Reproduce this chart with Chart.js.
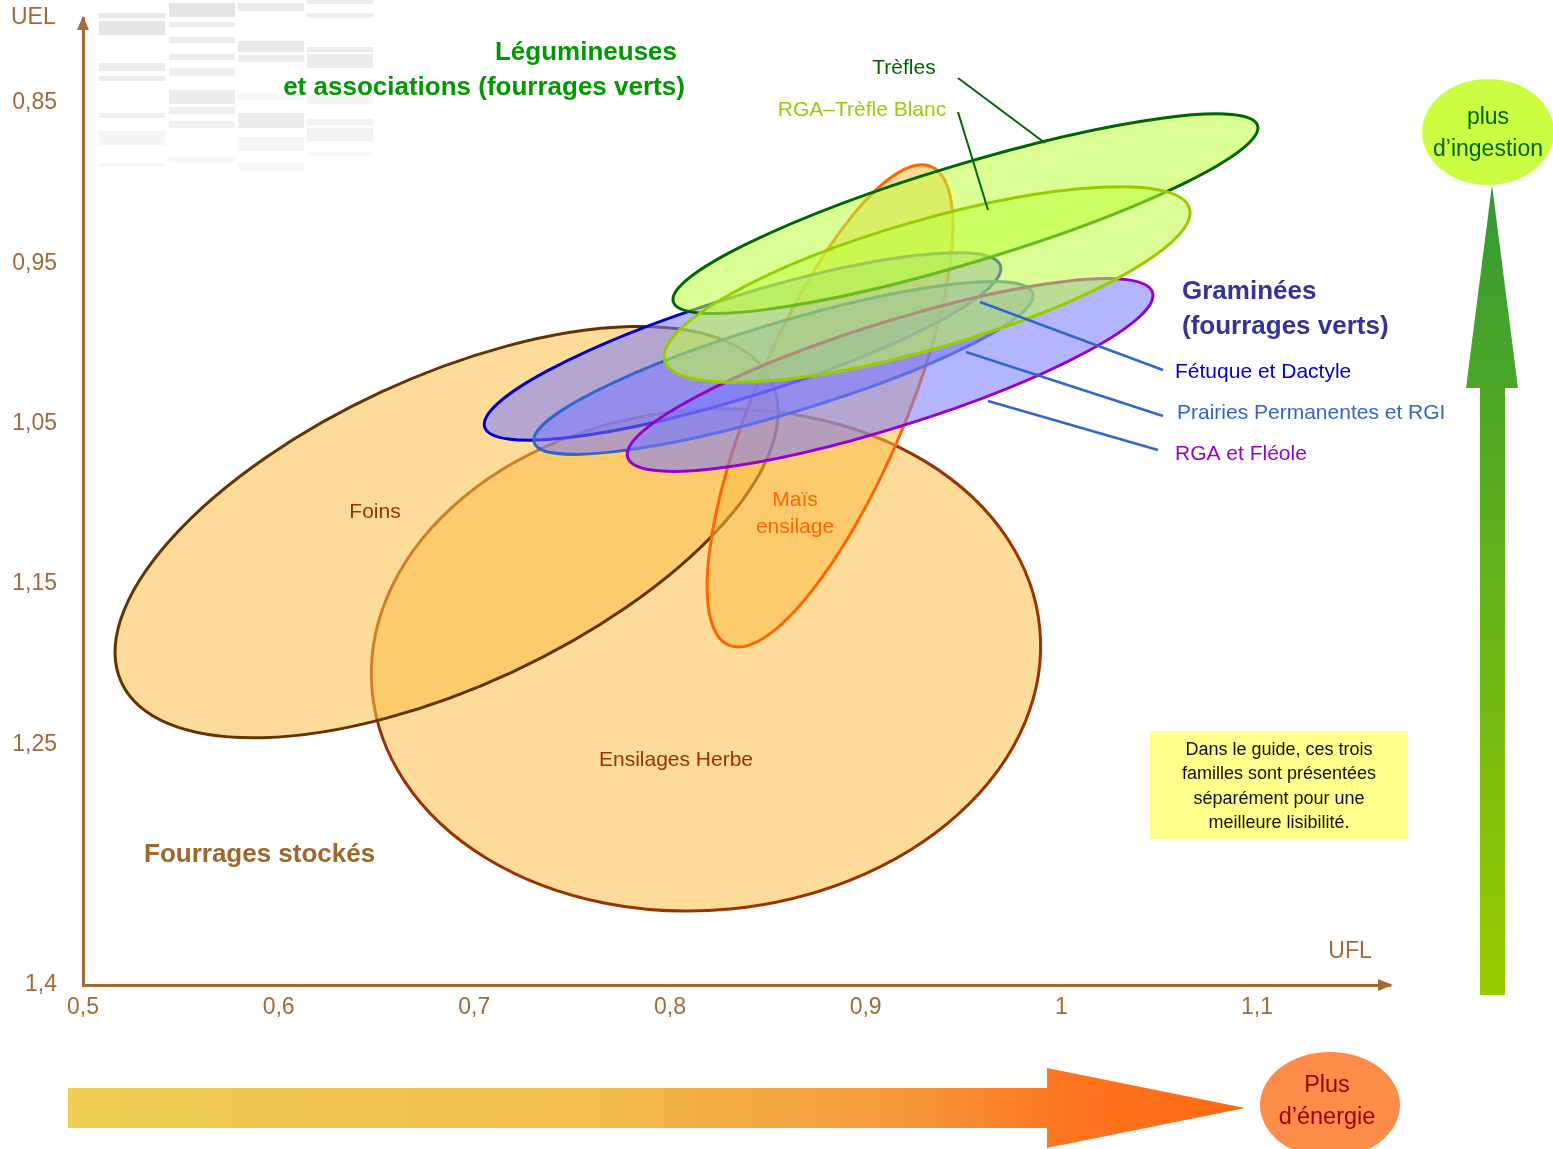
<!DOCTYPE html>
<html lang="fr">
<head>
<meta charset="utf-8">
<title>Valeurs UFL / UEL des fourrages</title>
<script src="https://cdn.jsdelivr.net/npm/chart.js@4.4.1/dist/chart.umd.min.js"></script>
<style>
  html, body { margin: 0; padding: 0; background: #fff; }
  canvas { display: block; }
</style>
</head>
<body>
<canvas id="fourrages" width="1553" height="1149"></canvas>
<script>
// familles, dans l'ordre de dessin (du fond vers le dessus)
const familles = ["Ensilages Herbe", "Foins", "Maïs ensilage", "Fétuque et Dactyle",
  "Prairies Permanentes et RGI", "RGA et Fléole", "Trèfles", "RGA–Trèfle Blanc"];
// centre de chaque ellipse (UFL, UEL)
const centreUFL = [0.8184, 0.6858, 0.8818, 0.8371, 0.8580, 0.9125, 0.9510, 0.9314];
const centreUEL = [1.1973, 1.1176, 1.0389, 1.0018, 1.0152, 1.0196, 0.9190, 0.9632];
// bout du grand axe
const grandAxeUFL = [0.9890, 0.8519, 0.9335, 0.9689, 0.9854, 1.0466, 1.1003, 1.0655];
const grandAxeUEL = [1.1775, 1.0237, 0.8897, 0.9515, 0.9686, 0.9681, 0.8640, 0.9157];
// bout du petit axe
const petitAxeUFL = [0.8306, 0.7191, 0.9175, 0.8447, 0.8647, 0.9205, 0.9583, 0.9405];
const petitAxeUEL = [1.3526, 1.2050, 1.0572, 1.0316, 1.0422, 1.0506, 0.9482, 1.0015];

const ticksUFL = [0.5, 0.6, 0.7, 0.8, 0.9, 1, 1.1];
const ticksUEL = [0.85, 0.95, 1.05, 1.15, 1.25, 1.4];

const contours = ["#993300", "#663300", "#ff6600", "#0000cc", "#3366cc", "#9900cc", "#006600", "#99cc00"];
const orange = "rgba(252,190,70,0.55)", bleu = "rgba(120,120,255,0.55)", vert = "rgba(190,255,60,0.55)";
const remplissages = [orange, orange, orange, bleu, bleu, bleu, vert, vert];

const brun = "#a26b36";
const police = "'Liberation Sans', Arial, sans-serif";

function texte(ctx, t, x, y, taille, couleur, gras, align) {
  ctx.font = (gras ? "bold " : "") + taille + "px " + police;
  ctx.fillStyle = couleur;
  ctx.textAlign = align || "center";
  ctx.textBaseline = "middle";
  ctx.fillText(t, x, y);
}

function trait(ctx, x1, y1, x2, y2, couleur, ep) {
  ctx.beginPath();
  ctx.moveTo(x1, y1);
  ctx.lineTo(x2, y2);
  ctx.strokeStyle = couleur;
  ctx.lineWidth = ep;
  ctx.stroke();
}

const dessin = {
  id: "dessin",
  beforeDraw(chart) {
    const ctx = chart.ctx;
    ctx.save();
    // restes de tableau estompé en haut à gauche
    const colonnes = [[99, [[13, 5, .09], [21, 14, .1], [63, 8, .07], [76, 5, .07], [113, 5, .06], [131, 14, .04], [163, 4, .03]]],
      [169, [[3, 14, .1], [22, 5, .07], [37, 6, .07], [54, 6, .07], [68, 8, .06], [90, 14, .07], [107, 7, .06], [121, 7, .05], [157, 5, .03]]],
      [238, [[3, 8, .08], [41, 11, .09], [55, 7, .07], [94, 6, .03], [113, 15, .07], [137, 14, .04], [163, 7, .03]]],
      [307, [[0, 4, .07], [13, 5, .06], [47, 5, .07], [54, 14, .07], [95, 9, .04], [119, 6, .05], [128, 13, .05], [152, 4, .03]]]];
    colonnes.forEach(([x, barres]) => {
      barres.forEach(([y, h, a]) => {
        ctx.fillStyle = "rgba(0,0,0," + a + ")";
        ctx.fillRect(x, y, 66, h);
      });
    });

    // flèche verticale verte (ingestion)
    const gv = ctx.createLinearGradient(0, 995, 0, 185);
    gv.addColorStop(0, "#99cc00");
    gv.addColorStop(1, "#339933");
    ctx.fillStyle = gv;
    ctx.beginPath();
    ctx.moveTo(1480, 995); ctx.lineTo(1480, 388); ctx.lineTo(1466, 388);
    ctx.lineTo(1492, 185); ctx.lineTo(1518, 388); ctx.lineTo(1505, 388);
    ctx.lineTo(1505, 995); ctx.closePath();
    ctx.fill();
    ctx.fillStyle = "#ccff44";
    ctx.beginPath();
    ctx.ellipse(1488, 132, 66, 53, 0, 0, Math.PI * 2);
    ctx.fill();
    texte(ctx, "plus", 1488, 118, 23, "#006600");
    texte(ctx, "d\u2019ingestion", 1488, 150, 23, "#006600");

    // flèche horizontale orange (énergie)
    const gh = ctx.createLinearGradient(68, 0, 1245, 0);
    gh.addColorStop(0, "#efcf55");
    gh.addColorStop(0.45, "#f1bc4a");
    gh.addColorStop(0.7, "#f59a3c");
    gh.addColorStop(0.85, "#fd7420");
    gh.addColorStop(1, "#ff6a0f");
    ctx.fillStyle = gh;
    ctx.beginPath();
    ctx.moveTo(68, 1088); ctx.lineTo(1047, 1088); ctx.lineTo(1047, 1068);
    ctx.lineTo(1245, 1108); ctx.lineTo(1047, 1148); ctx.lineTo(1047, 1128);
    ctx.lineTo(68, 1128); ctx.closePath();
    ctx.fill();
    ctx.fillStyle = "#fb8d48";
    ctx.beginPath();
    ctx.ellipse(1330, 1105, 70, 53, 0, 0, Math.PI * 2);
    ctx.fill();
    texte(ctx, "Plus", 1327, 1086, 23.5, "#990000");
    texte(ctx, "d\u2019énergie", 1327, 1118, 23.5, "#990000");

    // encadré jaune
    ctx.fillStyle = "#ffff8c";
    ctx.fillRect(1150, 731, 258, 108);
    ["Dans le guide, ces trois", "familles sont présentées", "séparément pour une", "meilleure lisibilité."]
      .forEach((l, i) => texte(ctx, l, 1279, 750 + i * 24.5, 18, "#111", false));
    ctx.restore();
  },
  beforeDatasetsDraw(chart) {
    const ctx = chart.ctx, xs = chart.scales.x, ys = chart.scales.y;
    ctx.save();
    familles.forEach((nom, i) => {
      const cx = xs.getPixelForValue(centreUFL[i]), cy = ys.getPixelForValue(centreUEL[i]);
      const ax = xs.getPixelForValue(grandAxeUFL[i]) - cx, ay = ys.getPixelForValue(grandAxeUEL[i]) - cy;
      const bx = xs.getPixelForValue(petitAxeUFL[i]) - cx, by = ys.getPixelForValue(petitAxeUEL[i]) - cy;
      ctx.save();
      ctx.beginPath();
      ctx.transform(ax, ay, bx, by, cx, cy);
      ctx.arc(0, 0, 1, 0, Math.PI * 2);
      ctx.restore();
      ctx.fillStyle = remplissages[i];
      ctx.fill();
      ctx.strokeStyle = contours[i];
      ctx.lineWidth = 3;
      ctx.stroke();
    });
    ctx.restore();
  },
  afterDraw(chart) {
    const ctx = chart.ctx, a = chart.chartArea;
    ctx.save();
    // pointes des axes
    ctx.fillStyle = brun;
    ctx.beginPath();
    ctx.moveTo(a.left - 6, a.top + 12); ctx.lineTo(a.left, a.top - 2); ctx.lineTo(a.left + 6, a.top + 12);
    ctx.closePath(); ctx.fill();
    ctx.beginPath();
    ctx.moveTo(a.right - 12, a.bottom - 6); ctx.lineTo(a.right + 3, a.bottom); ctx.lineTo(a.right - 12, a.bottom + 6);
    ctx.closePath(); ctx.fill();
    texte(ctx, "UEL", 11, 18, 23, brun, false, "left");
    texte(ctx, "UFL", 1350, 952, 23, brun, false);

    // titres des groupes
    texte(ctx, "Légumineuses", 586, 53, 26, "#009900", true);
    texte(ctx, "et associations (fourrages verts)", 484, 88, 26, "#009900", true);
    texte(ctx, "Graminées", 1182, 292, 26, "#333399", true, "left");
    texte(ctx, "(fourrages verts)", 1182, 327, 26, "#333399", true, "left");
    texte(ctx, "Fourrages stockés", 144, 855, 26, "#a0662a", true, "left");

    // noms des ellipses
    texte(ctx, "Foins", 375, 512, 21, "#993300", false);
    texte(ctx, "Ensilages Herbe", 676, 760, 21, "#993300", false);
    texte(ctx, "Maïs", 795, 500, 21, "#ff6600", false);
    texte(ctx, "ensilage", 795, 527, 21, "#ff6600", false);
    texte(ctx, "Trèfles", 904, 68, 21, "#006600", false);
    texte(ctx, "RGA–Trèfle Blanc", 862, 110, 21, "#99cc00", false);
    texte(ctx, "Fétuque et Dactyle", 1175, 372, 21, "#0000cc", false, "left");
    texte(ctx, "Prairies Permanentes et RGI", 1177, 413, 21, "#3366cc", false, "left");
    texte(ctx, "RGA et Fléole", 1175, 454, 21, "#9900cc", false, "left");

    // traits de rappel
    trait(ctx, 958, 78, 1045, 143, "#006600", 2);
    trait(ctx, 958, 112, 988, 210, "#006600", 2);
    trait(ctx, 980, 302, 1163, 370, "#3366cc", 2.5);
    trait(ctx, 966, 352, 1163, 416, "#3366cc", 2.5);
    trait(ctx, 988, 401, 1158, 450, "#3366cc", 2.5);
    ctx.restore();
  }
};

const virgule = v => String(v).replace(".", ",");
// pas de marge automatique pour les étiquettes : la zone du graphique est fixée
const sansMarge = s => { s.paddingTop = 0; s.paddingBottom = 0; s.paddingLeft = 0; s.paddingRight = 0; };

new Chart(document.getElementById("fourrages"), {
  type: "scatter",
  data: {
    datasets: [{
      label: "centres",
      data: centreUFL.map((x, i) => ({ x: x, y: centreUEL[i] })),
      pointRadius: 0
    }]
  },
  options: {
    responsive: false,
    animation: false,
    layout: { padding: { top: 18, right: 163, left: 0, bottom: 0 } },
    plugins: { legend: { display: false }, tooltip: { enabled: false } },
    scales: {
      x: {
        type: "linear", min: 0.5, max: 1.168,
        afterBuildTicks: s => { s.ticks = ticksUFL.map(v => ({ value: v })); },
        afterFit: s => { s.height = 164; sansMarge(s); },
        grid: { display: false, drawTicks: false },
        border: { color: brun, width: 3 },
        ticks: { color: brun, padding: 9, maxRotation: 0, autoSkip: false,
          font: { size: 23, family: police }, callback: virgule }
      },
      y: {
        type: "linear", reverse: true, min: 0.797, max: 1.4,
        afterBuildTicks: s => { s.ticks = ticksUEL.map(v => ({ value: v })); },
        afterFit: s => { s.width = 83; sansMarge(s); },
        grid: { display: false, drawTicks: false },
        border: { color: brun, width: 3 },
        ticks: { color: brun, padding: 26, autoSkip: false,
          font: { size: 23, family: police }, callback: virgule }
      }
    }
  },
  plugins: [dessin]
});
</script>
</body>
</html>
